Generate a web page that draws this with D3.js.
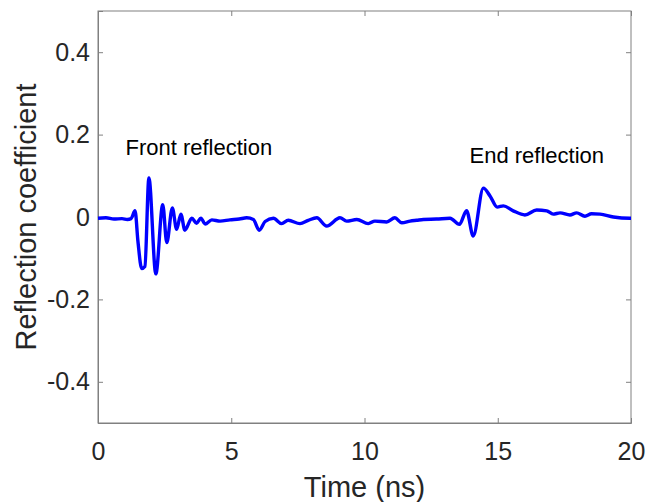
<!DOCTYPE html>
<html><head><meta charset="utf-8">
<script src="https://cdn.jsdelivr.net/npm/d3@7"></script>
<style>body{margin:0;background:#fff;} svg{display:block;}</style>
</head><body>
<script>
const timeNs = [0,0.3,0.6,0.9,1.1,1.24,1.39,1.5,1.64,1.76,1.91,2.17,2.43,2.58,2.79,2.95,3.11,3.26,3.52,3.70,3.86,4.02,4.27,4.58,4.95,5.3,5.58,5.83,6.05,6.27,6.58,6.89,7.14,7.58,7.89,8.21,8.58,9.08,9.33,9.71,10.14,10.39,10.83,11.14,11.40,11.71,11.96,12.21,12.7,13.21,13.56,13.83,14.08,14.46,14.71,14.98,15.21,15.58,16.02,16.46,16.84,17.08,17.34,17.71,17.96,18.27,18.52,18.84,19.34,19.96,20];
const reflection = [-0.003,-0.002,-0.005,-0.004,-0.006,-0.004,0.015,-0.06,-0.125,-0.12,0.095,-0.138,0.03,-0.062,0.022,-0.03,0.007,-0.032,-0.003,-0.015,-0.003,-0.017,-0.007,-0.01,-0.007,-0.005,-0.002,-0.006,-0.032,-0.011,-0.003,-0.016,-0.008,-0.016,-0.008,-0.002,-0.022,-0.002,-0.01,-0.006,-0.016,-0.01,-0.012,-0.002,-0.014,-0.01,-0.008,-0.006,-0.005,-0.003,-0.018,0.015,-0.046,0.07,0.051,0.024,0.027,0.015,0.005,0.017,0.015,0.007,0.010,0.005,0.010,0.002,0.008,0.007,0.0,-0.003,-0.003];
const xTicks = [0,5,10,15,20];
const yTicks = [-0.4,-0.2,0,0.2,0.4];
const annotations = [{text:"Front reflection", t:1.03, v:0.150},{text:"End reflection", t:13.94, v:0.131}];

const W=647,H=502, m={l:98,r:16,t:11,b:79};
const svg=d3.select("body").append("svg").attr("width",W).attr("height",H);
const x=d3.scaleLinear().domain([0,20]).range([m.l,W-m.r]);
const y=d3.scaleLinear().domain([-0.5,0.5]).range([H-m.b,m.t]);
const axisCol="#262626", boxCol="#808080", font="Liberation Sans, Arial, sans-serif";

svg.append("rect").attr("x",m.l).attr("y",m.t).attr("width",W-m.r-m.l).attr("height",H-m.b-m.t)
  .attr("fill","none").attr("stroke",boxCol).attr("stroke-width",1);

const gx=svg.append("g").attr("transform",`translate(0,${H-m.b})`)
  .call(d3.axisBottom(x).tickValues(xTicks).tickSize(-5).tickPadding(19).tickFormat(d3.format("d")));
const gy=svg.append("g").attr("transform",`translate(${m.l},0)`)
  .call(d3.axisLeft(y).tickValues(yTicks).tickSize(-5).tickPadding(8).tickFormat(d=>d===0?"0":d.toFixed(1)));
[gx,gy].forEach(g=>{
  g.select(".domain").attr("stroke",boxCol);
  g.selectAll(".tick line").attr("stroke",boxCol);
  g.selectAll("text").attr("fill",axisCol).attr("font-family",font).attr("font-size",25);
});
svg.append("g").attr("transform",`translate(0,${m.t})`).call(d3.axisTop(x).tickValues(xTicks).tickSize(-5).tickFormat(""))
  .call(g=>{g.select(".domain").remove();g.selectAll("line").attr("stroke",boxCol);});
svg.append("g").attr("transform",`translate(${W-m.r},0)`).call(d3.axisRight(y).tickValues(yTicks).tickSize(-5).tickFormat(""))
  .call(g=>{g.select(".domain").remove();g.selectAll("line").attr("stroke",boxCol);});

const line=d3.line().x((d,i)=>x(timeNs[i])).y(d=>y(d)).curve(d3.curveMonotoneX);
svg.append("path").datum(reflection).attr("d",line).attr("fill","none").attr("stroke","#0000ff").attr("stroke-width",3.4).attr("stroke-linejoin","round");

svg.selectAll(".ann").data(annotations).enter().append("text")
  .attr("x",d=>x(d.t)).attr("y",d=>y(d.v)).text(d=>d.text)
  .attr("font-family",font).attr("font-size",22).attr("fill","#000");

svg.append("text").attr("x",(m.l+W-m.r)/2).attr("y",497).attr("text-anchor","middle")
  .attr("font-family",font).attr("font-size",29).attr("fill",axisCol).text("Time (ns)");
svg.append("text").attr("transform",`translate(36,${(m.t+H-m.b)/2}) rotate(-90)`).attr("text-anchor","middle")
  .attr("font-family",font).attr("font-size",29).attr("fill",axisCol).text("Reflection coefficient");
</script>
</body></html>
